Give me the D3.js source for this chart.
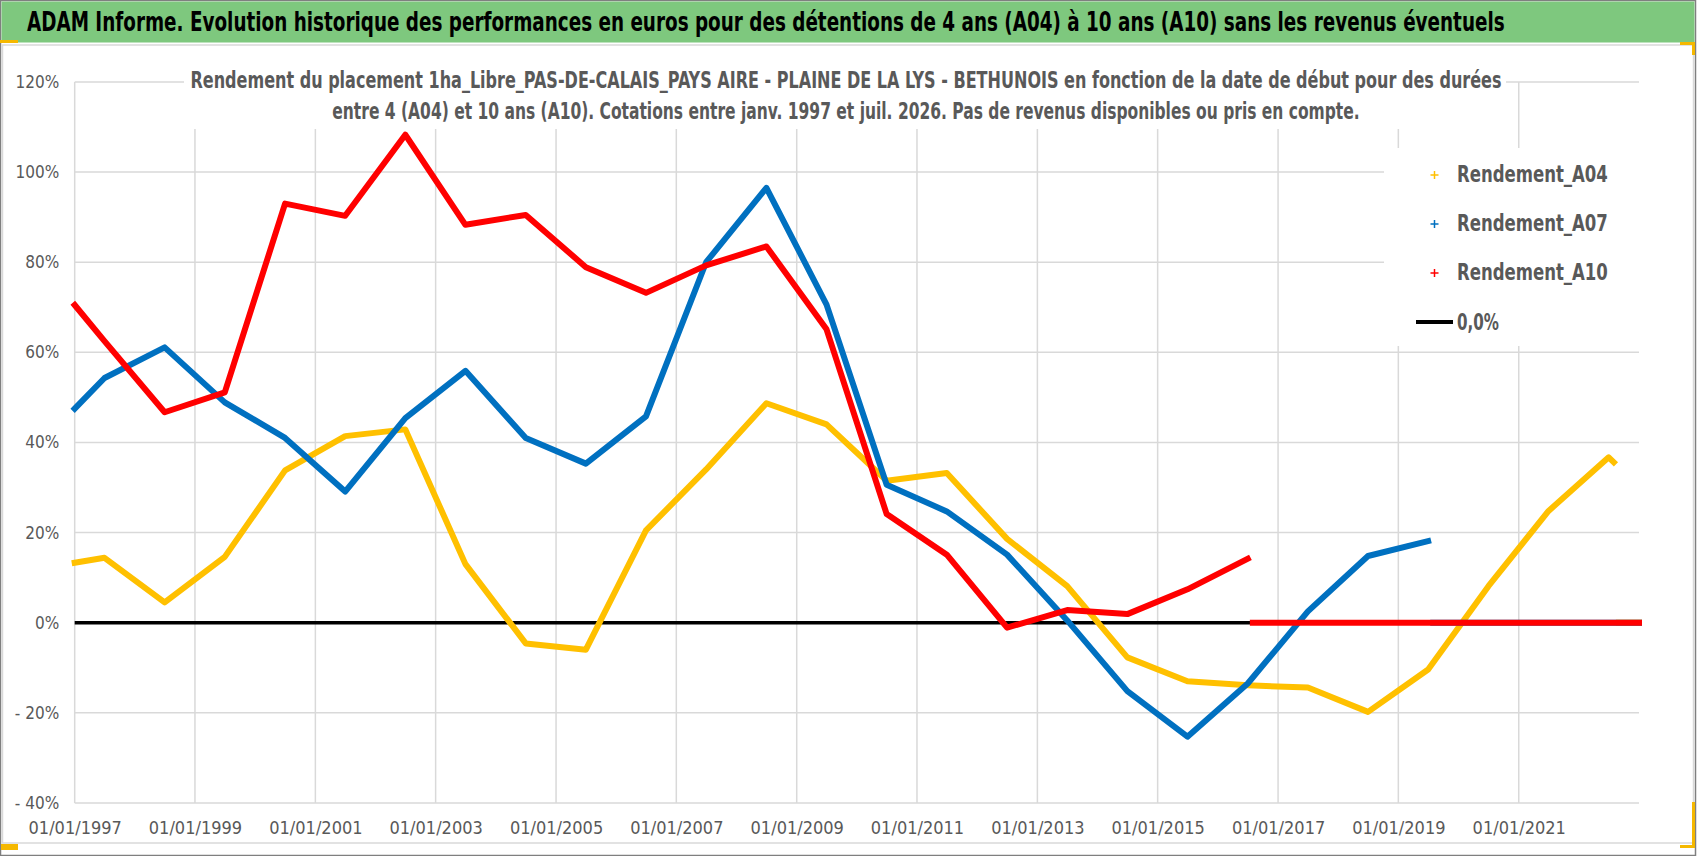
<!DOCTYPE html>
<html>
<head>
<meta charset="utf-8">
<title>ADAM Informe - Rendement A04 / A07 / A10</title>
<script src="https://cdnjs.cloudflare.com/ajax/libs/d3/7.8.5/d3.min.js"></script>
<style>
body {margin:0; background:#fff;}
svg {display:block;}
text {font-family:"Liberation Sans Narrow","DejaVu Sans Condensed","Roboto","Open Sans",sans-serif;}
</style>
</head>
<body>
<script>

// ---- data ----
var titre = "ADAM Informe. Evolution historique des performances en euros pour des détentions de 4 ans (A04) à 10 ans (A10) sans les revenus éventuels";
var sousTitre = [
  "Rendement du placement 1ha_Libre_PAS-DE-CALAIS_PAYS AIRE - PLAINE DE LA LYS - BETHUNOIS en fonction de la date de début pour des durées",
  "entre 4 (A04) et 10 ans (A10).  Cotations entre janv. 1997 et juil. 2026. Pas de revenus disponibles ou pris en compte."
];

var dates = ["1997-01","1997-07","1998-07","1999-07","2000-07","2001-07","2002-07","2003-07",
  "2004-07","2005-07","2006-07","2007-07","2008-07","2009-07","2010-07","2011-07","2012-07",
  "2013-07","2014-07","2015-07","2016-07","2017-07","2018-07","2019-07","2020-07","2021-07",
  "2022-07","2022-08"];

// rendement en %, one value per date (series stop at their last quotation)
var rendA04 = [13.3,14.4,4.5,14.6,33.8,41.4,42.9,13.0,-4.6,-6.0,20.5,34.0,48.7,44.0,31.5,33.2,
  18.6,8.1,-7.7,-13.0,-13.9,-14.4,-19.8,-10.4,8.1,24.8,36.7,35.6];
var rendA07 = [47.5,54.3,61.1,48.9,41.0,29.1,45.4,55.9,41.0,35.3,45.8,80.0,96.5,70.6,30.6,24.7,
  15.1,0.5,-15.2,-25.3,-13.5,2.5,14.8,18.1];
var rendA10 = [70.5,62.5,46.7,51.1,93.0,90.3,108.3,88.3,90.5,78.9,73.2,79.3,83.5,65.1,24.1,15.1,
  -1.1,2.8,1.9,7.4,14.2];

// after the last quotation each series is plotted at 0 up to the end of the axis
var debutZero = ["2022-09","2019-08","2016-08"];
var finAxe = "2023-01";

var series = ["Rendement_A04","Rendement_A07","Rendement_A10"];
var couleurs = ["#FFC000","#0070C0","#FF0000"];
var yTicks = [-40,-20,0,20,40,60,80,100,120];
var xTicks = ["1997","1999","2001","2003","2005","2007","2009","2011","2013","2015","2017","2019","2021"];

// ---- drawing ----
var W = 1698, H = 856;
var parse = d3.timeParse("%Y-%m");
var parseY = d3.timeParse("%Y");

var svg = d3.select("body").append("svg")
    .attr("width", W)
    .attr("height", H);

// narrow (like Calibri) texts: squeeze horizontally round the anchor to the wanted width
function ajuste(sel, largeur) {
  sel.each(function (d, i) {
    var t = d3.select(this);
    var w = typeof largeur == "function" ? largeur(d, i) : largeur;
    var ax = +t.attr("x");
    var l = this.getComputedTextLength();
    if (l > w + 1) {
      t.attr("transform", "translate(" + ax + ",0) scale(" + (w / l).toFixed(4) + ",1) translate(" + (-ax) + ",0)");
    } else if (l < w - 1) {
      t.attr("textLength", w).attr("lengthAdjust", "spacing");
    }
  });
}

var x = d3.scaleTime()
    .domain([parse("1997-01"), parse(finAxe)])
    .range([74.7, 1639]);

var y = d3.scaleLinear()
    .domain([-40, 120])
    .range([802.9, 82]);

// frame + title bar
svg.append("rect").attr("x", 0.5).attr("y", 0.5).attr("width", 1695).attr("height", 855)
    .attr("fill", "#fff").attr("stroke", "#7f7f7f").attr("stroke-width", 1.5);
svg.append("rect").attr("x", 1.5).attr("y", 1.5).attr("width", 1693).attr("height", 41)
    .attr("fill", "#7ec87e");
svg.append("rect").attr("x", 2.5).attr("y", 45).attr("width", 1691).attr("height", 798)
    .attr("fill", "none").attr("stroke", "#d9d9d9").attr("stroke-width", 1.5);

svg.append("text")
    .attr("x", 27).attr("y", 31)
    .attr("font-size", 26).attr("font-weight", "bold")
    .attr("fill", "#000")
    .text(titre)
    .call(ajuste, 1478);

// grid
var grid = svg.append("g").attr("stroke", "#d9d9d9").attr("stroke-width", 1.5);
grid.selectAll(".gy").data(yTicks).enter().append("line")
    .attr("x1", x.range()[0]).attr("x2", x.range()[1])
    .attr("y1", function (d) { return y(d); })
    .attr("y2", function (d) { return y(d); });
grid.selectAll(".gx").data(xTicks).enter().append("line")
    .attr("x1", function (d) { return x(parseY(d)); })
    .attr("x2", function (d) { return x(parseY(d)); })
    .attr("y1", y.range()[1]).attr("y2", y.range()[0]);

// axes (labels only)
var yAxis = d3.axisLeft(y)
    .tickValues(yTicks)
    .tickSize(0)
    .tickPadding(15.5)
    .tickFormat(function (d) { return d < 0 ? "- " + Math.abs(d) + "%" : d + "%"; });
var gy = svg.append("g").attr("transform", "translate(" + x.range()[0] + ",0)").call(yAxis);

var xAxis = d3.axisBottom(x)
    .tickValues(xTicks.map(parseY))
    .tickSize(0)
    .tickPadding(18)
    .tickFormat(d3.timeFormat("%d/%m/%Y"));
var gx = svg.append("g").attr("transform", "translate(0," + y.range()[0] + ")").call(xAxis);

[gx, gy].forEach(function (g) {
  g.select(".domain").remove();
  g.selectAll("text").attr("fill", "#595959").attr("font-family", null);
});
gy.selectAll("text").attr("font-size", 17);
gx.selectAll("text").attr("font-size", 18);

// subtitle (white box over the grid)
svg.append("rect").attr("x", 184).attr("y", 60).attr("width", 1322).attr("height", 69).attr("fill", "#fff");
svg.selectAll(".st").data(sousTitre).enter().append("text")
    .attr("x", 846)
    .attr("y", function (d, i) { return 88 + i * 31; })
    .attr("text-anchor", "middle")
    .attr("font-size", 23).attr("font-weight", "bold")
    .attr("fill", "#595959")
    .text(function (d) { return d; })
    .call(ajuste, function (d, i) { return i == 0 ? 1312 : 1028; });

// legend box
svg.append("rect").attr("x", 1384).attr("y", 148).attr("width", 262).attr("height", 198).attr("fill", "#fff");

// 0 line
svg.append("line")
    .attr("x1", x.range()[0]).attr("x2", x.range()[1])
    .attr("y1", y(0)).attr("y2", y(0))
    .attr("stroke", "#000").attr("stroke-width", 3.5);

var line = d3.line()
    .x(function (d) { return x(d[0]); })
    .y(function (d) { return y(d[1]); });

var valeurs = [rendA04, rendA07, rendA10];
valeurs.forEach(function (vals, i) {
  var pts = vals.map(function (v, k) { return [parse(dates[k]), v]; });
  var zero = [[parse(debutZero[i]), 0], [parse(finAxe), 0]];
  [pts, zero].forEach(function (p) {
    svg.append("path")
        .datum(p)
        .attr("d", line)
        .attr("fill", "none")
        .attr("stroke", couleurs[i])
        .attr("stroke-width", 6)
        .attr("stroke-linejoin", "round")
        .attr("stroke-linecap", "square");
  });
});

// legend
var leg = svg.append("g");
series.forEach(function (s, i) {
  var cy = 175 + i * 49;
  leg.append("path")
      .attr("d", "M1430.5," + cy + "h8M1434.5," + (cy - 4) + "v8")
      .attr("stroke", couleurs[i]).attr("stroke-width", 1.5);
  leg.append("text")
      .attr("x", 1457).attr("y", cy + 7)
      .attr("font-size", 23).attr("font-weight", "bold").attr("fill", "#595959")
      .text(s)
      .call(ajuste, 151);
});
leg.append("line").attr("x1", 1416).attr("x2", 1453).attr("y1", 322).attr("y2", 322)
    .attr("stroke", "#000").attr("stroke-width", 4);
leg.append("text")
    .attr("x", 1457).attr("y", 330)
    .attr("font-size", 23).attr("font-weight", "bold").attr("fill", "#595959")
    .text("0,0%")
    .call(ajuste, 42);

// selection handles of the chart area
var poignees = [[0, 40, 18, 3], [1, 844, 17, 6], [1680, 42, 15, 3], [1692, 42, 3, 13],
  [1692, 802, 3, 46], [1680, 845, 15, 3]];
svg.selectAll(".h").data(poignees).enter().append("rect")
    .attr("x", function (d) { return d[0]; }).attr("y", function (d) { return d[1]; })
    .attr("width", function (d) { return d[2]; }).attr("height", function (d) { return d[3]; })
    .attr("fill", "#f5b800");

</script>
</body>
</html>
